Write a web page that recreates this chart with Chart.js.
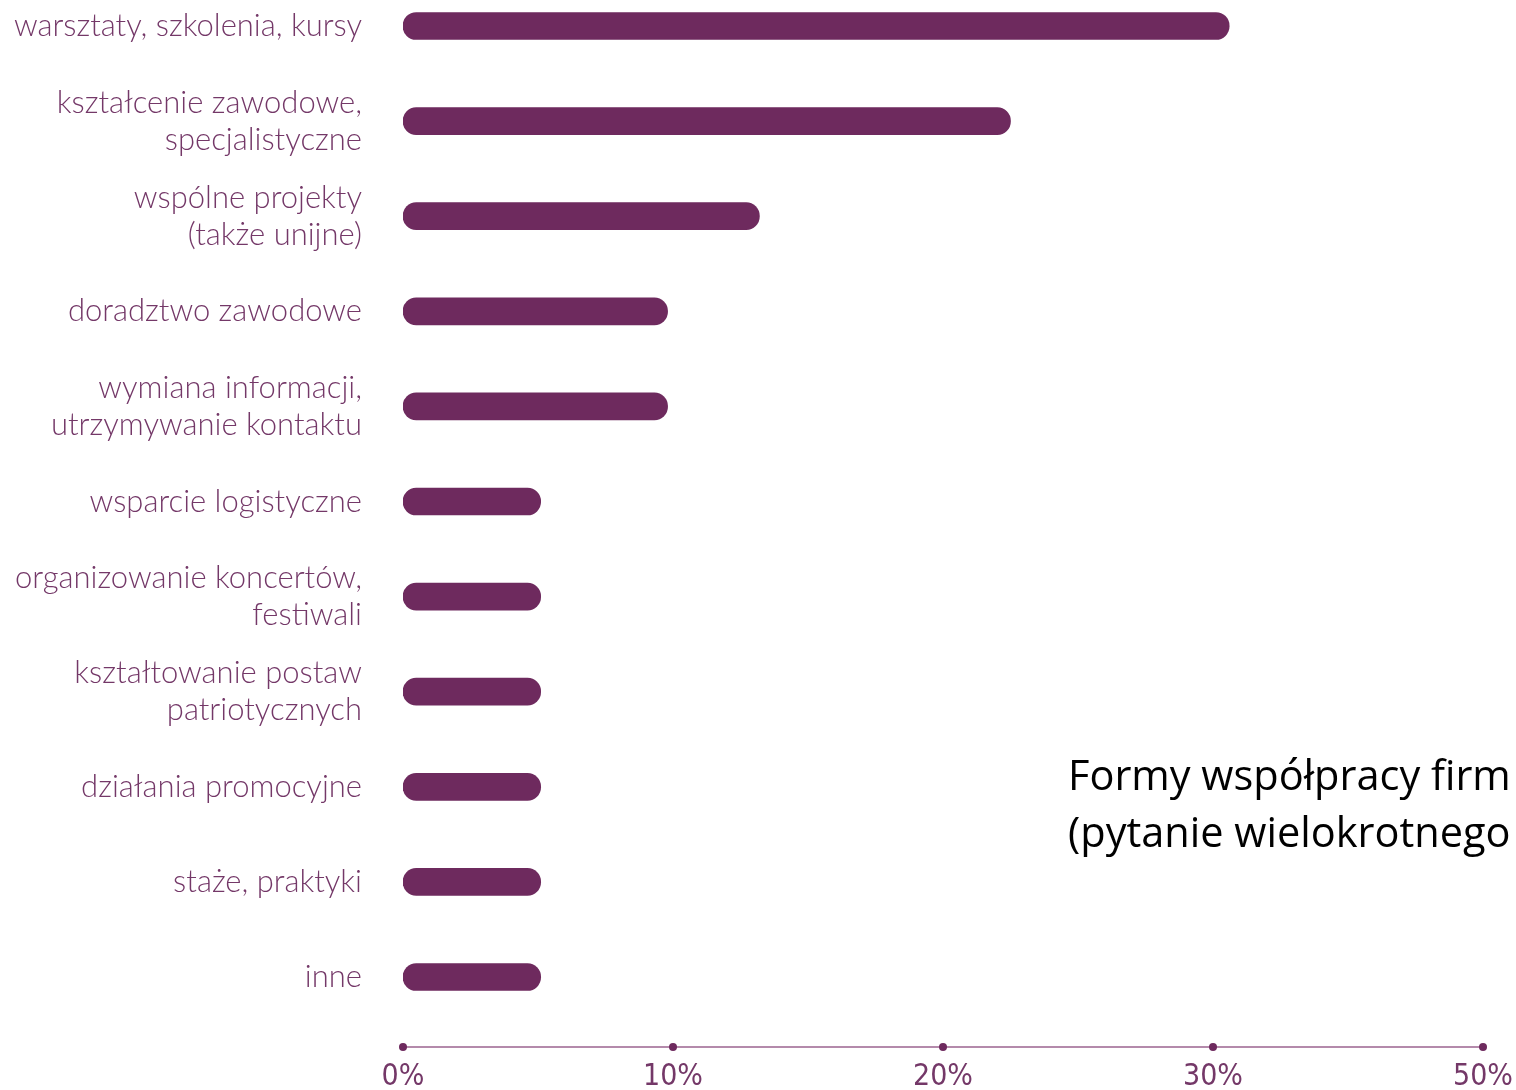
<!DOCTYPE html>
<html>
<head>
<meta charset="utf-8">
<script src="https://cdn.jsdelivr.net/npm/chart.js@4/dist/chart.umd.min.js"></script>
<style>
  html, body { margin: 0; padding: 0; background: #ffffff; overflow: hidden; width: 1516px; height: 1090px; }
  #wrap { position: absolute; left: 0; top: 0; width: 1516px; height: 1090px; }
  #note { position: absolute; left: 1068px; top: 746px; font-family: "Open Sans", sans-serif; font-size: 41.5px; line-height: 57px; color: #000; white-space: nowrap; }
</style>
</head>
<body>
<div id="wrap"><canvas id="c" width="1516" height="1090"></canvas></div>
<div id="note">Formy współpracy firm<br>(pytanie wielokrotnego wyboru)</div>
<script>
const categories = [
  "warsztaty, szkolenia, kursy",
  ["kształcenie zawodowe,", "specjalistyczne"],
  ["wspólne projekty", "(także unijne)"],
  "doradztwo zawodowe",
  ["wymiana informacji,", "utrzymywanie kontaktu"],
  "wsparcie logistyczne",
  ["organizowanie koncertów,", "festiwali"],
  ["kształtowanie postaw", "patriotycznych"],
  "działania promocyjne",
  "staże, praktyki",
  "inne"
];
const values = [30.6, 22.5, 13.2, 9.8, 9.8, 5.1, 5.1, 5.1, 5.1, 5.1, 5.1];
const tickValues = [0, 10, 20, 30, 40];
const tickLabels = ["0%", "10%", "20%", "30%", "50%"];

const barColor = "#6e2a5e";
const labelColor = "#743868";

const axisDots = {
  id: "axisDots",
  afterDraw(chart) {
    const xs = chart.scales.x;
    const ctx = chart.ctx;
    const y = chart.chartArea.bottom;
    ctx.save();
    ctx.strokeStyle = "#b48aab";
    ctx.lineWidth = 2;
    ctx.beginPath();
    ctx.moveTo(xs.getPixelForValue(tickValues[0]), y);
    ctx.lineTo(xs.getPixelForValue(tickValues[tickValues.length - 1]), y);
    ctx.stroke();
    ctx.fillStyle = barColor;
    tickValues.forEach(v => {
      ctx.beginPath();
      ctx.arc(xs.getPixelForValue(v), y, 4, 0, Math.PI * 2);
      ctx.fill();
    });
    ctx.restore();
  }
};

new Chart(document.getElementById("c"), {
  type: "bar",
  data: {
    datasets: [{
      data: values.map((v, i) => ({ x: v, y: i })),
      backgroundColor: barColor,
      barThickness: 27,
      borderRadius: 14,
      borderSkipped: false
    }]
  },
  options: {
    indexAxis: "y",
    responsive: false,
    devicePixelRatio: 1,
    animation: false,
    layout: { padding: { left: 0, right: 33, top: 0, bottom: 0 } },
    plugins: { legend: { display: false }, tooltip: { enabled: false } },
    scales: {
      x: {
        type: "linear",
        min: 0,
        max: 40,
        offset: false,
        grid: { display: false, drawTicks: false },
        border: { display: false },
        afterBuildTicks(s) { s.ticks = tickValues.map(v => ({ value: v })); },
        ticks: {
          padding: 12,
          color: labelColor,
          font: { family: "'Liberation Sans Narrow', 'DejaVu Sans Condensed', Roboto, sans-serif", size: 30, weight: 300 },
          callback: (v) => tickLabels[tickValues.indexOf(v)]
        },
        afterFit(s) { s.height = 43; s.paddingLeft = 0; s.paddingRight = 0; }
      },
      y: {
        type: "linear",
        reverse: true,
        offset: false,
        min: -0.2734,
        max: 10.736,
        grid: { display: false, drawTicks: false, offset: false },
        border: { display: false },
        afterBuildTicks(s) { s.ticks = categories.map((_, i) => ({ value: i })); },
        ticks: {
          padding: 41,
          color: labelColor,
          font: { family: "Lato, sans-serif", size: 31, weight: 300, lineHeight: 1.2 },
          callback: (v) => categories[v]
        },
        afterFit(s) { s.width = 403; s.paddingTop = 0; s.paddingBottom = 0; }
      }
    }
  },
  plugins: [axisDots]
});
</script>
</body>
</html>
